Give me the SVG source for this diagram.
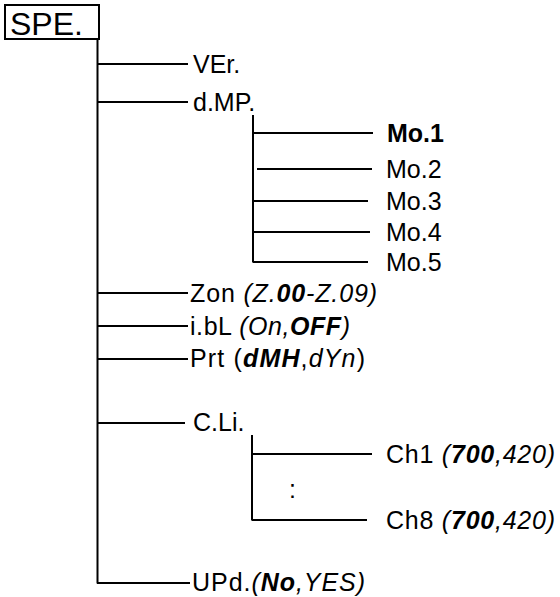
<svg xmlns="http://www.w3.org/2000/svg" width="560" height="597" viewBox="0 0 560 597">
<style>
  text { font-family: "Liberation Sans", Arial, sans-serif; font-size: 25px; fill: #000; }
  .i { font-style: italic; }
  .b { font-weight: bold; }
  .bi { font-weight: bold; font-style: italic; }
  .ln { stroke: #000; stroke-width: 2; fill: none; }
</style>
<rect width="560" height="597" fill="#fff"/>
<g id="connectors">
  <path class="ln" d="M97.5 39 V583.5 M97 64 H188 M97 102 H188 M97 293 H188 M97 326 H188 M97 359 H188 M97 423 H185 M97 583 H190"/>
  <path class="ln" d="M253 115 V262.5 M252 133 H373 M257 169 H372 M253 201 H368 M253 232 H370 M253 262 H368"/>
  <path class="ln" d="M252 435 V520.5 M251 454 H372 M252 520 H367"/>
</g>
<g id="SPE">
  <rect x="5" y="5" width="94" height="34" fill="none" stroke="#000" stroke-width="2"/>
  <text x="10" y="35" style="font-size:32px">SPE.</text>
</g>
<g id="VEr"><text x="193" y="73">VEr.</text></g>
<g id="dMP"><text x="193" y="111">d.MP.</text></g>
<g id="Mo1"><text x="387" y="142" class="b">Mo.1</text></g>
<g id="Mo2"><text x="386" y="178">Mo.2</text></g>
<g id="Mo3"><text x="386" y="210">Mo.3</text></g>
<g id="Mo4"><text x="386" y="241">Mo.4</text></g>
<g id="Mo5"><text x="386" y="271">Mo.5</text></g>
<g id="Zon"><text x="190" y="302" textLength="187">Zon <tspan class="i">(Z.</tspan><tspan class="bi">00</tspan><tspan class="i">-Z.09)</tspan></text></g>
<g id="ibL"><text x="190" y="335" textLength="160">i.bL <tspan class="i">(On,</tspan><tspan class="bi">OFF</tspan><tspan class="i">)</tspan></text></g>
<g id="Prt"><text x="190" y="367" textLength="175">Prt (<tspan class="bi">dMH</tspan>,<tspan class="i">dYn</tspan>)</text></g>
<g id="CLi"><text x="193" y="431">C.Li.</text></g>
<g id="Ch1"><text x="386" y="463" textLength="169">Ch1 <tspan class="i">(</tspan><tspan class="bi">700</tspan><tspan class="i">,420)</tspan></text></g>
<g id="dots"><text x="289" y="498">:</text></g>
<g id="Ch8"><text x="386" y="529" textLength="169">Ch8 <tspan class="i">(</tspan><tspan class="bi">700</tspan><tspan class="i">,420)</tspan></text></g>
<g id="UPd"><text x="192" y="591" textLength="173">UPd.<tspan class="i">(</tspan><tspan class="bi">No</tspan><tspan class="i">,YES)</tspan></text></g>
</svg>
